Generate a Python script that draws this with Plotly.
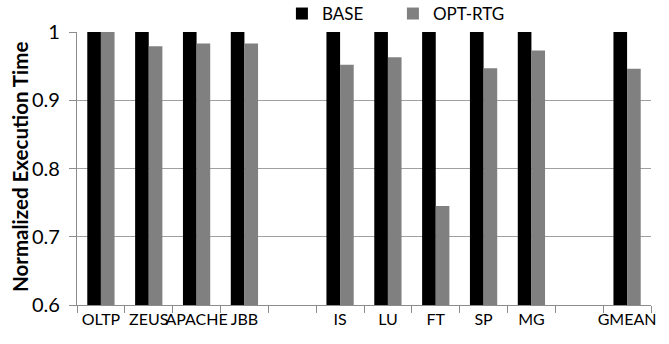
import plotly.graph_objects as go

# Benchmarks (two empty slots separate the groups)
categories = ["OLTP", "ZEUS", "APACHE", "JBB", " ", "IS", "LU", "FT", "SP", "MG", "  ", "GMEAN"]
base = [1.0, 1.0, 1.0, 1.0, None, 1.0, 1.0, 1.0, 1.0, 1.0, None, 1.0]
opt_rtg = [1.0, 0.979, 0.983, 0.983, None, 0.952, 0.963, 0.745, 0.947, 0.973, None, 0.946]
y_ticks = [0.6, 0.7, 0.8, 0.9, 1.0]
y_tick_text = ["0.6", "0.7", "0.8", "0.9", "1"]

FONT = "Lato, 'Open Sans', sans-serif"
AXIS_GREY = "#8c8c8c"
PAD = "\u00a0"  # keeps the y labels clear of the tick marks

fig = go.Figure()
fig.add_trace(go.Bar(x=categories, y=base, name="BASE",
                     marker=dict(color="#000000", line=dict(width=0))))
fig.add_trace(go.Bar(x=categories, y=opt_rtg, name="OPT-RTG",
                     marker=dict(color="#808080", line=dict(width=0))))

fig.update_layout(
    width=669, height=344,
    margin=dict(l=77, r=18, t=32, b=39, autoexpand=False),
    paper_bgcolor="white", plot_bgcolor="white",
    barmode="group", bargap=0.43, bargroupgap=0,
    font=dict(family=FONT, color="#000000"),
    showlegend=True,
    legend=dict(
        orientation="h", x=0.357, y=1.066, xanchor="left", yanchor="middle",
        font=dict(size=17, family=FONT), entrywidth=66, entrywidthmode="pixels",
        itemwidth=30, bgcolor="rgba(0,0,0,0)", traceorder="normal",
        tracegroupgap=0,
    ),
)
# vertical axis title, placed beside the tick labels
fig.add_annotation(
    text="<b>Normalized Execution Time</b>", textangle=-90,
    xref="paper", yref="paper", x=(20 - 77) / 574, y=(344 - 39 - 167) / 273,
    xanchor="center", yanchor="middle", showarrow=False,
    font=dict(size=20.5, family=FONT, color="#000000"),
)
fig.update_xaxes(
    type="category", categoryorder="array", categoryarray=categories,
    tickson="boundaries", ticks="outside", ticklen=7, tickcolor=AXIS_GREY,
    showline=True, linecolor=AXIS_GREY, linewidth=1, tickangle=0,
    showgrid=False, tickfont=dict(size=16, family=FONT), fixedrange=True,
)
fig.update_yaxes(
    range=[0.6, 1.0], tickvals=y_ticks, ticktext=[t + PAD for t in y_tick_text],
    ticks="outside", ticklen=7, tickcolor=AXIS_GREY,
    showline=True, linecolor=AXIS_GREY, linewidth=1,
    showgrid=True, gridcolor="#a0a0a0", gridwidth=1,
    tickfont=dict(size=20, family=FONT),
    zeroline=False, fixedrange=True,
)

fig.write_html("out.html")
